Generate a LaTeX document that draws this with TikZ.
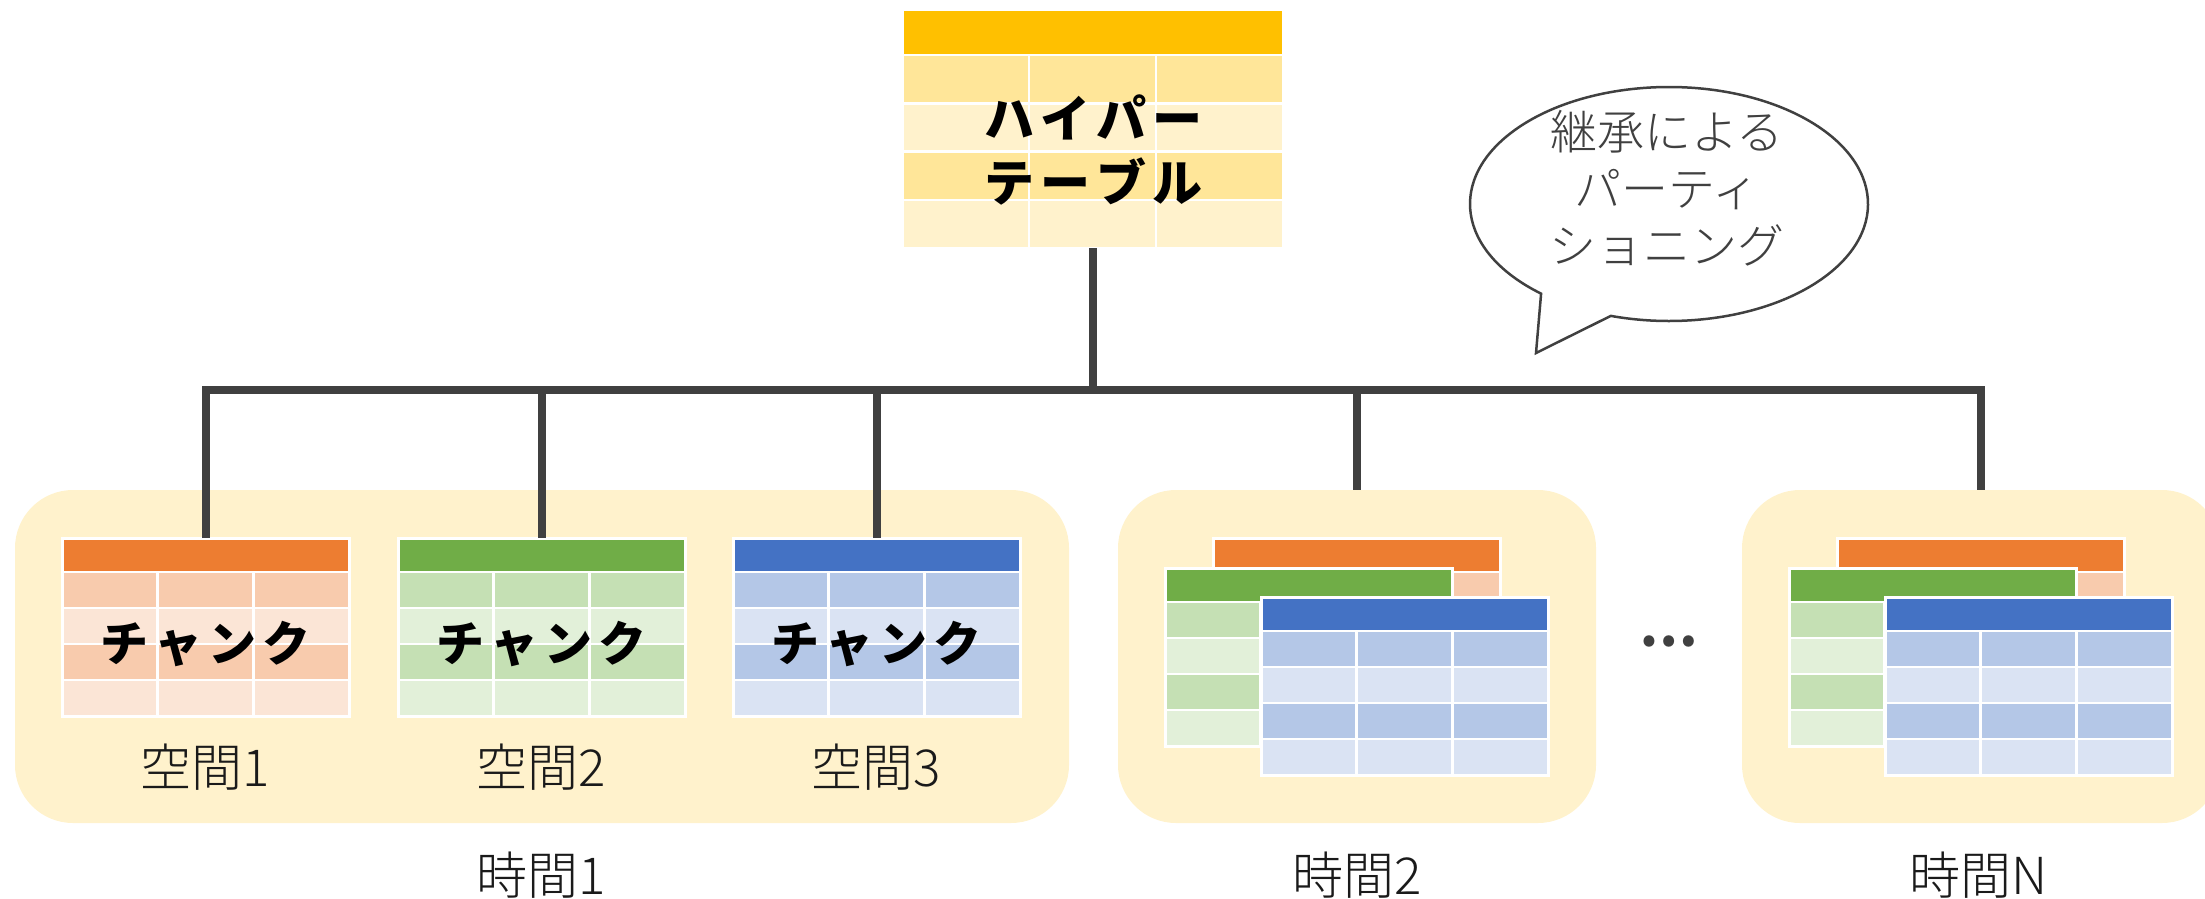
\documentclass[tikz,border=0pt]{standalone}
\usepackage{fontspec}
\setmainfont{Noto Sans CJK JP}
\IfFontExistsTF{Noto Sans CJK JP Light}{\newfontfamily\lightjp{Noto Sans CJK JP Light}}{\newfontfamily\lightjp{Noto Sans CJK JP}}
\definecolor{hyH}{HTML}{FFC000}
\definecolor{hyD}{HTML}{FFE699}
\definecolor{hyL}{HTML}{FFF2CC}
\definecolor{orH}{HTML}{ED7D31}
\definecolor{orD}{HTML}{F8CBAD}
\definecolor{orL}{HTML}{FBE5D6}
\definecolor{grH}{HTML}{70AD47}
\definecolor{grD}{HTML}{C5E0B4}
\definecolor{grL}{HTML}{E2F0D9}
\definecolor{blH}{HTML}{4472C4}
\definecolor{blD}{HTML}{B4C7E7}
\definecolor{blL}{HTML}{DAE3F3}
\definecolor{grpbg}{HTML}{FFF2CC}
\definecolor{connc}{HTML}{404040}
\definecolor{txtc}{HTML}{1A1A1A}
\newcommand\gapk{\kern6pt}
\newcommand\dbt[8]{%
  \node[tblnode, minimum width=#4pt, minimum height=#5pt] (#1) at (#2,#3) {};
  \pgfmathsetmacro\tbH{0.19*#5}%
  \pgfmathsetmacro\tbS{(#5-\tbH)/4}%
  \fill[#6] (#2,#3) rectangle ++(#4,\tbH);
  \fill[#7] (#2,#3+\tbH) rectangle ++(#4,\tbS);
  \fill[#8] (#2,#3+\tbH+\tbS) rectangle ++(#4,\tbS);
  \fill[#7] (#2,#3+\tbH+2*\tbS) rectangle ++(#4,\tbS);
  \fill[#8] (#2,#3+\tbH+3*\tbS) rectangle ++(#4,\tbS);
  \draw[gridline] (#2,#3+\tbH) -- ++(#4,0)
    (#2,#3+\tbH+\tbS) -- ++(#4,0)
    (#2,#3+\tbH+2*\tbS) -- ++(#4,0)
    (#2,#3+\tbH+3*\tbS) -- ++(#4,0)
    (#2+#4/3,#3+\tbH) -- ++(0,4*\tbS)
    (#2+2*#4/3,#3+\tbH) -- ++(0,4*\tbS);
  \draw[gridline, line width=3pt] (#2,#3) rectangle ++(#4,#5);
}
\begin{document}
\begin{tikzpicture}[x=1pt,y=-1pt,
  tblnode/.style={anchor=north west, inner sep=0pt, outer sep=0pt, draw=none, fill=white},
  gridline/.style={white, line width=2.5pt},
  groupbox/.style={anchor=north west, inner sep=0pt, outer sep=0pt, fill=grpbg, draw=none, rounded corners=58pt, minimum height=333pt, minimum width=478pt},
  conn/.style={connc, line width=8pt, line join=miter},
  bigbold/.style={font=\fontsize{50}{64}\selectfont\bfseries, text=black, align=center},
  chunkbold/.style={font=\fontsize{48}{60}\selectfont\bfseries, text=black},
  lbl/.style={font=\lightjp\fontsize{51}{60}\selectfont, text=txtc},
  dotsstyle/.style={font=\fontsize{52}{60}\selectfont\bfseries, text=connc},
  bubbletext/.style={font=\lightjp\fontsize{47}{57}\selectfont, text=connc, align=center},
  bubble/.style={draw=connc, line width=2.5pt, fill=white, line join=miter}
]
\useasboundingbox (0,0) rectangle (2205,899);
\clip (0,0) rectangle (2205,899);

% groups
\node[groupbox, minimum width=1054pt] (g1) at (15,490) {};
\node[groupbox] (g2) at (1118,490) {};
\node[groupbox] (g3) at (1742,490) {};

% hyper table
\dbt{hyper}{902}{10}{381}{238}{hyH}{hyD}{hyL}
\node[bigbold] (hypertext) at (1093,150) {ハ\gapk イ\gapk パ\gapk ー\\テ\gapk ー\gapk ブ\gapk ル};

% group 1 chunks
\dbt{c1}{62}{538}{287}{178}{orH}{orD}{orL}
\dbt{c2}{398}{538}{287}{178}{grH}{grD}{grL}
\dbt{c3}{733}{538}{287}{178}{blH}{blD}{blL}
\node[chunkbold] (c1t) at (c1.center |- 0,644) {チ\gapk ャ\gapk ン\gapk ク};
\node[chunkbold] (c2t) at (c2.center |- 0,644) {チ\gapk ャ\gapk ン\gapk ク};
\node[chunkbold] (c3t) at (c3.center |- 0,644) {チ\gapk ャ\gapk ン\gapk ク};
\node[lbl] (s1) at (205,767) {空間1};
\node[lbl] (s2) at (541,767) {空間2};
\node[lbl] (s3) at (876,767) {空間3};

% group 2 stack
\dbt{d1}{1213}{538}{287}{178}{orH}{orD}{orL}
\dbt{d2}{1165}{568}{287}{178}{grH}{grD}{grL}
\dbt{d3}{1261}{597}{287}{178}{blH}{blD}{blL}

% group 3 stack
\dbt{e1}{1837}{538}{287}{178}{orH}{orD}{orL}
\dbt{e2}{1789}{568}{287}{178}{grH}{grD}{grL}
\dbt{e3}{1885}{597}{287}{178}{blH}{blD}{blL}

\node[dotsstyle] (dots) at (1669,641) {…};

% time labels
\node[lbl] (t1) at (541,875) {時間1};
\node[lbl] (t2) at (1357,875) {時間2};
\node[lbl] (tN) at (1979,875) {時間N};

% connectors
\coordinate (bus) at (1093,390);
\draw[conn] (hyper.south) -- (hyper.south |- bus);
\draw[conn] (c1.north) |- (g3.north |- bus) -- (g3.north);
\draw[conn] (c2.north |- bus) -- (c2.north);
\draw[conn] (c3.north |- bus) -- (c3.north);
\draw[conn] (g2.north |- bus) -- (g2.north);

% speech bubble
\draw[bubble] ({1669+199*cos(107)},{204+117*sin(107)}) -- (1536,353)
  -- ({1669+199*cos(130)},{204+117*sin(130)})
  arc[start angle=130, end angle=467, x radius=199, y radius=117] -- cycle;
\node[bubbletext] (btext) at (1667,188) {継承による\\パーティ\\ショニング};
\end{tikzpicture}
\end{document}
